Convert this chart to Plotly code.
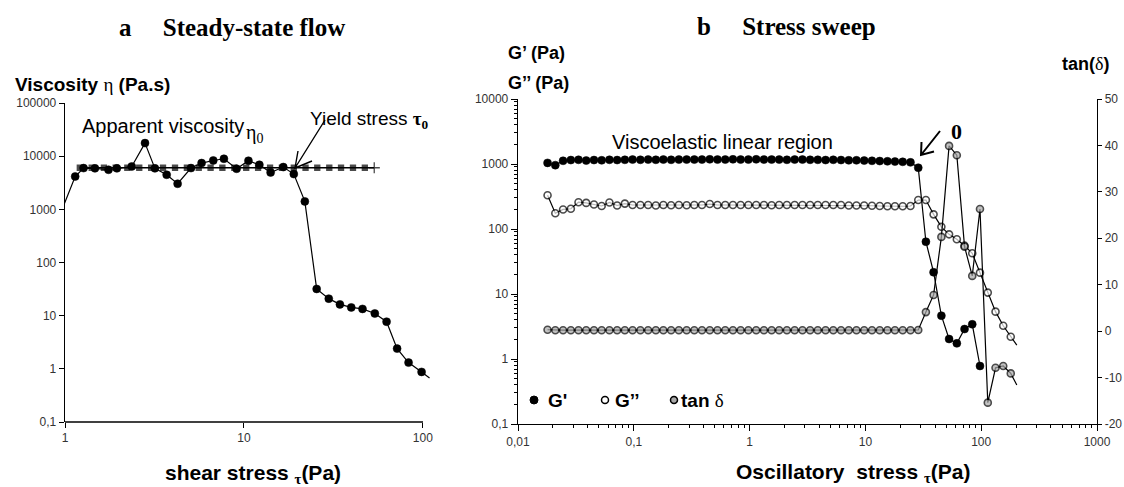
import plotly.graph_objects as go

W, H = 1124, 487


def fx(p):
    return p / W


def fy(p):
    return 1 - p / H


# ---------------- Panel a : steady-state flow ----------------
shear_stress = [0.98, 1.14, 1.27, 1.47, 1.75, 1.95, 2.36, 2.80, 3.18, 3.70, 4.26, 5.06,
                5.80, 6.74, 7.73, 9.10, 10.6, 12.2, 14.1, 16.6, 19.0, 21.9, 25.5, 29.8,
                34.4, 39.8, 46.0, 53.9, 62.7, 71.8, 83.2, 98.4, 109]
viscosity = [1150, 4150, 5970, 5900, 5550, 5900, 6400, 17600, 5900, 4470, 3030, 5970,
             7420, 8300, 8930, 5800, 8200, 6880, 4940, 6240, 4610, 1410, 31.8, 20.9,
             16.3, 14.3, 13.4, 11.0, 7.7, 2.40, 1.31, 0.875, 0.675]

fit_stress = [1.21, 1.41, 1.65, 1.92, 2.23, 2.60, 3.03, 3.53, 4.12, 4.80, 5.59, 6.51,
              7.58, 8.84, 10.3, 12.0, 14.0, 16.3, 19.0, 22.1, 25.7, 30.0, 34.9, 40.7,
              47.4, 53.5]
fit_viscosity = [6050, 6050, 6050, 6050, 6050, 6050, 6050, 6050, 6050, 6050, 6050, 6050,
                 6050, 6050, 6050, 6050, 6050, 6050, 6050, 6050, 6050, 6050, 6050, 6050,
                 6050, 6050]

visc_ticks = [0.1, 1, 10, 100, 1000, 10000, 100000]
visc_ticktext = ["0,1", "1", "10", "100", "1000", "10000", "100000"]
shear_ticks = [1, 10, 100]
shear_ticktext = ["1", "10", "100"]

# ---------------- Panel b : stress sweep ----------------
osc_stress = [0.0180, 0.0210, 0.0245, 0.0286, 0.0333, 0.0388, 0.0453, 0.0528, 0.0616,
              0.0718, 0.0837, 0.0976, 0.114, 0.133, 0.155, 0.180, 0.210, 0.245, 0.286,
              0.333, 0.388, 0.453, 0.528, 0.616, 0.718, 0.837, 0.976, 1.14, 1.33, 1.55,
              1.80, 2.10, 2.45, 2.86, 3.33, 3.88, 4.53, 5.28, 6.16, 7.18, 8.37, 9.76,
              11.4, 13.3, 15.5, 18.0, 21.0, 24.5, 28.6, 33.3, 38.8, 45.3, 52.8, 61.6,
              71.8, 83.7, 97.6, 114, 133, 155, 180, 203]
g_storage = [1040, 960, 1120, 1150, 1160, 1130, 1150, 1140, 1160, 1150, 1160, 1170,
             1160, 1170, 1160, 1170, 1160, 1170, 1170, 1170, 1170, 1180, 1170, 1170,
             1180, 1170, 1170, 1180, 1170, 1170, 1170, 1160, 1170, 1170, 1160, 1160,
             1150, 1160, 1150, 1140, 1140, 1130, 1120, 1110, 1100, 1090, 1080, 1060,
             877, 63.8, 21.6, 4.64, 2.03, 1.74, 2.89, 3.42, 0.78]
g_loss = [330, 175, 200, 205, 258, 252, 238, 226, 256, 230, 246, 234,
          234, 234, 230, 234, 232, 234, 232, 234, 234, 242, 234, 234,
          234, 234, 234, 234, 234, 232, 234, 234, 234, 234, 234, 234,
          234, 234, 234, 230, 230, 230, 228, 226, 224, 224, 224, 226,
          279, 279, 168, 108, 82.8, 69.5, 55.4, 42.3, 21.3, 10.5, 5.35, 3.25,
          2.20, 1.64]
tan_delta = [0.3, 0.2, 0.2, 0.2, 0.2, 0.2, 0.2, 0.2, 0.2, 0.2, 0.2, 0.2,
             0.2, 0.2, 0.2, 0.2, 0.2, 0.2, 0.2, 0.2, 0.2, 0.2, 0.2, 0.2,
             0.2, 0.2, 0.2, 0.2, 0.2, 0.2, 0.2, 0.2, 0.2, 0.2, 0.2, 0.2,
             0.2, 0.2, 0.2, 0.2, 0.2, 0.2, 0.2, 0.2, 0.2, 0.2, 0.2, 0.2,
             0.25, 4.1, 7.8, 20.3, 39.9, 37.9, 18.2, 11.9, 26.3, -15.4, -7.9, -7.5,
             -9.1, -11.6]

osc_ticks = [0.01, 0.1, 1, 10, 100, 1000]
osc_ticktext = ["0,01", "0,1", "1", "10", "100", "1000"]
modulus_ticks = [0.1, 1, 10, 100, 1000, 10000]
modulus_ticktext = ["0,1", "1", "10", "100", "1000", "10000"]
tan_ticks = [-20, -10, 0, 10, 20, 30, 40, 50]
tan_ticktext = ["-20", "-10", "0", "10", "20", "30", "40", "50"]

TICKFONT = dict(family="Liberation Sans", size=12, color="#333")
SERIF = "Liberation Serif"
SANS = "Liberation Sans"

fig = go.Figure()

# fitted plateau (squares + end cross)
nf = len(fit_stress)
fig.add_trace(go.Scatter(
    x=fit_stress, y=fit_viscosity, mode="lines+markers", xaxis="x", yaxis="y",
    line=dict(color="black", width=1.5),
    marker=dict(symbol=["square"] * (nf - 1) + ["cross-thin"],
                size=[5] * (nf - 1) + [8], color="black",
                line=dict(color="black", width=1.3)),
    showlegend=False, hoverinfo="skip"))

# viscosity curve
nv = len(shear_stress)
fig.add_trace(go.Scatter(
    x=shear_stress, y=viscosity, mode="lines+markers", xaxis="x", yaxis="y",
    line=dict(color="black", width=1.2),
    marker=dict(size=[0] + [8] * (nv - 2) + [0], color="black",
                line=dict(color="black", width=0.5), opacity=1),
    showlegend=False, hoverinfo="skip"))

# G''
ng = len(g_loss)
fig.add_trace(go.Scatter(
    x=osc_stress[:ng], y=g_loss, mode="lines+markers", xaxis="x2", yaxis="y2",
    line=dict(color="black", width=1.2),
    marker=dict(size=[7] * (ng - 1) + [0], color="white",
                line=dict(color="black", width=1.6)),
    showlegend=False, hoverinfo="skip"))

# G'
ns = len(g_storage)
fig.add_trace(go.Scatter(
    x=osc_stress[:ns], y=g_storage, mode="lines+markers", xaxis="x2", yaxis="y2",
    line=dict(color="black", width=1.2),
    marker=dict(size=8, color="black", line=dict(color="black", width=0.5)),
    showlegend=False, hoverinfo="skip"))

# tan delta
nt = len(tan_delta)
fig.add_trace(go.Scatter(
    x=osc_stress[:nt], y=tan_delta, mode="lines+markers", xaxis="x2", yaxis="y3",
    line=dict(color="black", width=1.2),
    marker=dict(size=[7] * (nt - 1) + [0], color="#a9a9a9",
                line=dict(color="black", width=1.6)),
    showlegend=False, hoverinfo="skip"))


def ann(text, x, y, size, family=SANS, xanchor="center", yanchor="middle"):
    return dict(text=text, x=fx(x), y=fy(y), xref="paper", yref="paper",
                showarrow=False, xanchor=xanchor, yanchor=yanchor,
                font=dict(family=family, size=size, color="black"))


def ser(t):
    return f"<span style='font-family:{SERIF}'>{t}</span>"


annotations = [
    ann("<b>a&nbsp;&nbsp;&nbsp;&nbsp;&nbsp;Steady-state flow</b>", 232, 28, 25, SERIF),
    ann("<b>b&nbsp;&nbsp;&nbsp;&nbsp;&nbsp;Stress sweep</b>", 786, 27, 25, SERIF),
    ann("<b>Viscosity</b> " + ser("η") + " <b>(Pa.s)</b>", 13, 85, 19, xanchor="left"),
    ann("<b>shear stress <sub>" + ser("τ") + "</sub>(Pa)</b>", 253, 474, 21),
    ann("Apparent viscosity", 80, 126, 20, xanchor="left"),
    ann("η<sub>0</sub>", 244, 134, 20, SERIF, xanchor="left"),
    ann("Yield stress " + ser("<b>τ<sub>0</sub></b>"), 308, 120, 19, xanchor="left"),
    ann("<b>G’ (Pa)</b>", 506, 53, 18, xanchor="left"),
    ann("<b>G’’ (Pa)</b>", 506, 83, 18, xanchor="left"),
    ann("<b>tan(</b>" + ser("δ") + "<b>)</b>", 1085, 64, 18),
    ann("Viscoelastic linear region", 722, 142, 20),
    ann("<b>0</b>", 956, 131, 22, SERIF),
    ann("<b>Oscillatory&nbsp;&nbsp;stress <sub>" + ser("τ") + "</sub>(Pa)</b>", 853, 473, 21),
    ann("<b>G'</b>", 546, 400, 19, xanchor="left"),
    ann("<b>G’’</b>", 613, 400, 19, xanchor="left"),
    ann("<b>tan</b> " + ser("δ"), 679, 400, 19, xanchor="left"),
]


def ppath(points):
    segs = []
    for seg in points:
        s = "M" + " L".join(f"{fx(a):.5f},{fy(b):.5f}" for a, b in seg)
        segs.append(s)
    return " ".join(segs)


shapes = [
    # left x axis line (ends at 100)
    dict(type="line", xref="paper", yref="paper", x0=fx(65), x1=fx(423),
         y0=fy(422), y1=fy(422), line=dict(color="black", width=1.3)),
    # left arrow
    dict(type="path", xref="paper", yref="paper",
         path=ppath([[(325, 120), (295, 168)], [(298, 151), (295, 168), (312, 161)]]),
         line=dict(color="black", width=1.4)),
    # right arrow
    dict(type="path", xref="paper", yref="paper",
         path=ppath([[(940, 131), (921, 155)], [(921.5, 142), (921, 155), (934, 151.5)]]),
         line=dict(color="black", width=2)),
    # legend symbols
    dict(type="circle", xref="paper", yref="paper", x0=fx(530), x1=fx(538),
         y0=fy(404), y1=fy(396), fillcolor="black", line=dict(color="black", width=1)),
    dict(type="circle", xref="paper", yref="paper", x0=fx(601.5), x1=fx(608.5),
         y0=fy(403.5), y1=fy(396.5), fillcolor="white", line=dict(color="black", width=1.5)),
    dict(type="circle", xref="paper", yref="paper", x0=fx(670.5), x1=fx(677.5),
         y0=fy(403.5), y1=fy(396.5), fillcolor="#a9a9a9", line=dict(color="black", width=1.5)),
]

axis_common = dict(showgrid=False, zeroline=False, ticks="outside", tickcolor="black",
                   tickfont=TICKFONT, linecolor="black", linewidth=1.3, automargin=False)
minor_ticks = dict(ticks="outside", ticklen=3, tickcolor="black", dtick="D1", showgrid=False)

fig.update_layout(
    width=W, height=H, autosize=False,
    margin=dict(l=0, r=0, t=0, b=0, autoexpand=False),
    paper_bgcolor="white", plot_bgcolor="white",
    showlegend=False,
    xaxis=dict(domain=[fx(65), fx(430)], type="log", range=[0, 2.04], anchor="y",
               tickmode="array", tickvals=shear_ticks, ticktext=shear_ticktext, ticklen=5,
               showline=False, **axis_common),
    yaxis=dict(domain=[fy(422), fy(103)], type="log", range=[-1, 5], anchor="x",
               tickmode="array", tickvals=visc_ticks, ticktext=visc_ticktext,
               ticklen=5, showline=True, **axis_common),
    xaxis2=dict(domain=[fx(518), fx(1097)], type="log", range=[-2, 3], anchor="y2",
                tickmode="array", tickvals=osc_ticks, ticktext=osc_ticktext,
                ticklen=6, showline=True, minor=minor_ticks, **axis_common),
    yaxis2=dict(domain=[fy(424), fy(99)], type="log", range=[-1, 4], anchor="x2",
                tickmode="array", tickvals=modulus_ticks, ticktext=modulus_ticktext,
                ticklen=6, showline=True, minor=minor_ticks, **axis_common),
    yaxis3=dict(overlaying="y2", side="right", anchor="x2", range=[-20, 50],
                tickmode="array", tickvals=tan_ticks, ticktext=tan_ticktext,
                ticklen=4, showline=True, **axis_common),
    annotations=annotations,
    shapes=shapes,
)

fig.write_html("out.html",
               config={"displayModeBar": False, "staticPlot": True},
               post_script="document.body.style.margin='0px';"
                           "document.body.style.padding='0px';")
